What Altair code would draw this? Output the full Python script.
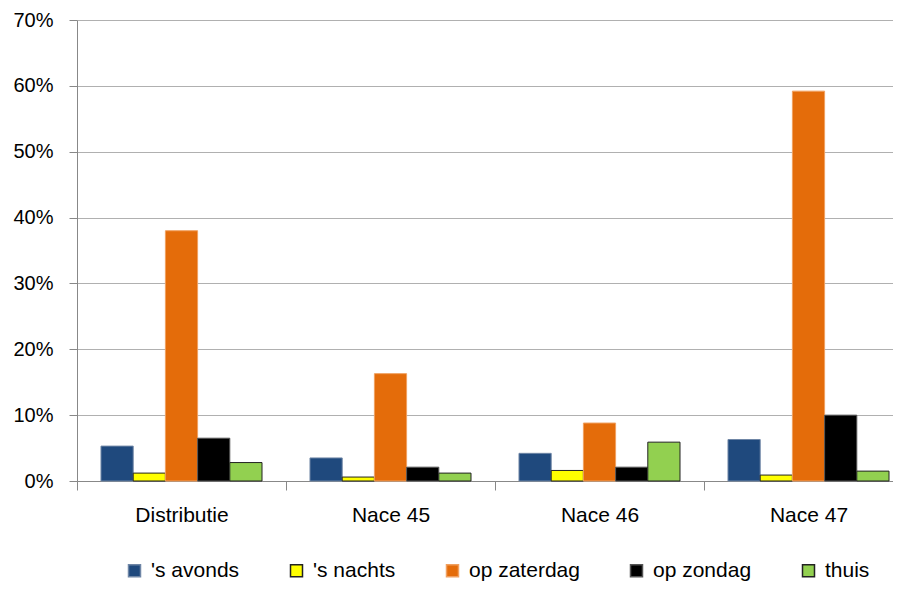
import altair as alt
import pandas as pd

categories = ["Distributie", "Nace 45", "Nace 46", "Nace 47"]
series = ["'s avonds", "'s nachts", "op zaterdag", "op zondag", "thuis"]
avonds = [5.3, 3.5, 4.2, 6.3]
nachts = [1.2, 0.6, 1.6, 0.9]
zaterdag = [38.0, 16.3, 8.8, 59.2]
zondag = [6.5, 2.1, 2.1, 10.0]
thuis = [2.8, 1.2, 5.9, 1.5]
y_ticks = [0, 0.1, 0.2, 0.3, 0.4, 0.5, 0.6, 0.7]

fills = ["#1F497D", "#FFFF00", "#E46C0A", "#000000", "#92D050"]
strokes = ["#6f86a6", "#222222", "#f0a060", "#555555", "#222222"]

rows = []
for s, vals in zip(series, [avonds, nachts, zaterdag, zondag, thuis]):
    for c, v in zip(categories, vals):
        rows.append({"cat": c, "serie": s, "val": v / 100.0})
df = pd.DataFrame(rows)

FONT = "Liberation Sans"

legend_opts = dict(orient="none", legendX=47, legendY=540,
                   direction="horizontal", columns=5,
                   symbolType="square", symbolSize=144,
                   labelFontSize=21, labelFont=FONT,
                   labelColor="#000000", labelOffset=6,
                   columnPadding=46, title=None)

chart = alt.Chart(df).mark_bar(strokeWidth=1).encode(
    x=alt.X("cat:N", sort=categories, title=None,
            scale=alt.Scale(paddingInner=0, paddingOuter=0, range=[0, 836]),
            axis=alt.Axis(labelAngle=0, tickBand="extent", tickSize=9,
                          tickColor="#888888", domainColor="#888888",
                          labelFontSize=21, labelPadding=14, labelColor="#000000",
                          labelFont=FONT)),
    xOffset=alt.XOffset("serie:N", sort=series,
                        scale=alt.Scale(paddingInner=0, paddingOuter=0.745)),
    y=alt.Y("val:Q", title=None,
            scale=alt.Scale(domain=[0, 0.7], nice=False),
            axis=alt.Axis(values=y_ticks, format=".0%", tickSize=8,
                          tickColor="#888888", domainColor="#888888",
                          gridColor="#b0b0b0", labelFontSize=20, labelPadding=16,
                          labelColor="#000000", labelFont=FONT)),
    fill=alt.Fill("serie:N", sort=series, title=None,
                  scale=alt.Scale(domain=series, range=fills),
                  legend=alt.Legend(**legend_opts)),
    stroke=alt.Stroke("serie:N", sort=series, title=None,
                      scale=alt.Scale(domain=series, range=strokes),
                      legend=alt.Legend(**legend_opts)),
).properties(
    width=816,
    height=461,
    autosize=alt.AutoSizeParams(type="none"),
    padding={"left": 69, "top": 12, "right": 0, "bottom": 103},
).configure_view(stroke=None).configure_axis(gridWidth=1)

chart.save("out.html", embed_options={"renderer": "svg", "actions": False})
